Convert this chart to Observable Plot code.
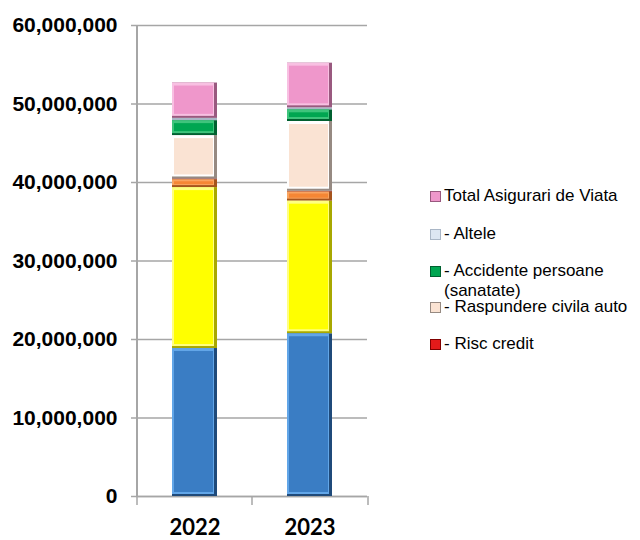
<!DOCTYPE html>
<html><head><meta charset="utf-8">
<script src="https://cdn.jsdelivr.net/npm/d3@7"></script>
<script src="https://cdn.jsdelivr.net/npm/@observablehq/plot@0.6"></script>
<style>
body{margin:0;background:#fff;}
#wrap{position:relative;width:640px;height:540px;font-family:"Liberation Sans",Arial,sans-serif;}
#wrap svg{position:absolute;left:0;top:0;}
.leg{position:absolute;left:430px;width:210px;font-size:17px;line-height:20px;color:#000;display:flex;align-items:flex-start;}
.sw{width:11px;height:11px;margin-top:5px;margin-right:3px;box-sizing:border-box;flex:none;}
</style></head><body><div id="wrap"></div>
<script>
const years = ["2022", "2023"];
// stack order bottom -> top
const series = [
  "- Garantii",
  "- Auto CASCO",
  "- Incendiu si calamitati naturale",
  "- Risc credit",
  "- Raspundere civila auto",
  "- Accidente persoane (sanatate)",
  "- Altele",
  "Total Asigurari de Viata"
];
const values2022 = [18850000, 20500000, 1000000, 100000, 5520000, 1910000, 290000, 4500000];
const values2023 = [20730000, 16890000, 1170000, 100000, 8880000, 1490000, 250000, 5690000];
const yTicks = [0, 10000000, 20000000, 30000000, 40000000, 50000000, 60000000];
const legendSeries = ["Total Asigurari de Viata", "- Altele", "- Accidente persoane (sanatate)", "- Raspundere civila auto", "- Risc credit"];

const baseColors  = ["#3a7dc4", "#ffff00", "#f58634", "#e41a1a", "#fae3d3", "#00a651", "#dce6f2", "#ef97cb"];
const darkColors  = ["#1f4a7a", "#a8a800", "#a5541c", "#800000", "#968a82", "#006030", "#a9b6c6", "#99597f"];
const lightColors = ["#62a6e8", "#ffff80", "#f9a460", "#ff6060", "#ffffff", "#3fc47c", "#ffffff", "#f8c0e2"];

const valuesByYear = [values2022, values2023];
const rows = [];
years.forEach((yr, j) => {
  let acc = 0;
  series.forEach((s, i) => {
    const v = valuesByYear[j][i];
    rows.push({year: yr, series: s, i, value: v, y1: acc, y2: acc + v});
    acc += v;
  });
});

const half = 58;
const grey = "#a6a6a6";
const chart = Plot.plot({
  width: 640, height: 540,
  marginLeft: 136, marginRight: 273, marginTop: 25, marginBottom: 44,
  x: {domain: years, padding: 0, axis: null},
  y: {domain: [0, 60000000], axis: null},
  style: {overflow: "visible", background: "transparent", fontFamily: "'Liberation Sans', Arial, sans-serif"},
  marks: [
    Plot.gridY(yTicks, {stroke: grey, strokeOpacity: 1, strokeWidth: 1.5}),
    Plot.axisY(yTicks, {tickFormat: d3.format(","), tickSize: 5, tickPadding: 14, fontSize: 21, fontWeight: "bold", stroke: grey, strokeWidth: 1.5, fill: "#000", label: null}),
    Plot.ruleX([years[0]], {dx: -half, y1: 0, y2: 60000000, stroke: grey, strokeWidth: 2}),
    Plot.ruleY([0], {stroke: grey, strokeWidth: 1.5}),
    Plot.ruleX(years, {dx: -half, y1: 0, y2: 0, insetBottom: -9, stroke: grey, strokeWidth: 1.5}),
    Plot.ruleX([years[years.length - 1]], {dx: half, y1: 0, y2: 0, insetBottom: -9, stroke: grey, strokeWidth: 1.5}),
    Plot.barY(rows, {x: "year", y1: "y1", y2: "y2", fill: d => darkColors[d.i], insetLeft: 35, insetRight: 35}),
    Plot.barY(rows.filter(d => d.value >= 400000), {x: "year", y1: "y1", y2: "y2", fill: d => lightColors[d.i], insetLeft: 35, insetRight: 38, insetBottom: 2}),
    Plot.barY(rows.filter(d => d.value >= 1300000), {x: "year", y1: "y1", y2: "y2", fill: d => baseColors[d.i], insetLeft: 37, insetRight: 39, insetTop: 3, insetBottom: 4}),
    Plot.barY(rows.filter(d => d.value >= 400000 && d.value < 1300000), {x: "year", y1: "y1", y2: "y2", fill: d => baseColors[d.i], insetLeft: 37, insetRight: 39, insetTop: 2, insetBottom: 3}),
    Plot.axisX({tickSize: 0, tickPadding: 23, fontSize: 22, fontWeight: "bold", fontFamily: "Lato, 'Liberation Sans', sans-serif", fill: "#000", label: null})
  ]
});
const wrap = document.getElementById("wrap");
wrap.appendChild(chart);

const legendTops = [186, 224, 261, 297, 334];
legendSeries.forEach((s, k) => {
  const i = series.indexOf(s);
  const row = document.createElement("div");
  row.className = "leg";
  row.style.top = legendTops[k] + "px";
  const sw = document.createElement("span");
  sw.className = "sw";
  sw.style.background = baseColors[i];
  sw.style.border = "1px solid " + darkColors[i];
  const tx = document.createElement("span");
  tx.textContent = s;
  tx.style.maxWidth = "196px";
  row.appendChild(sw);
  row.appendChild(tx);
  wrap.appendChild(row);
});
</script></body></html>
